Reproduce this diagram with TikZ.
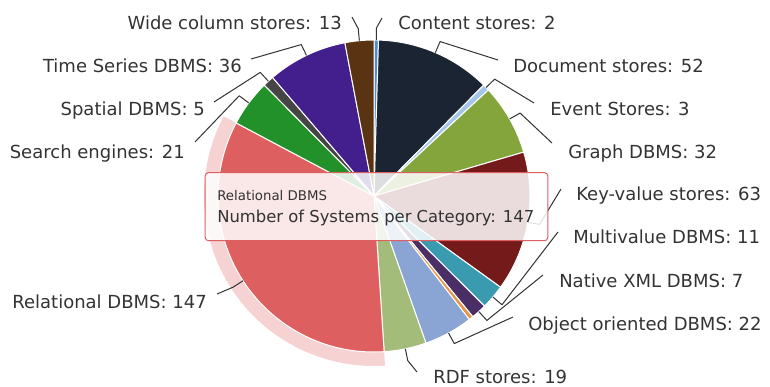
\documentclass[tikz,border=0pt]{standalone}
\usepackage{fontspec}
\setmainfont{DejaVu Sans}
\usepackage{tikz}
\usepackage{xcolor}
\usetikzlibrary{positioning}

\definecolor{content}{HTML}{4C8BD0}
\definecolor{document}{HTML}{1A2433}
\definecolor{event}{HTML}{A4C6E9}
\definecolor{graphdb}{HTML}{84A43C}
\definecolor{keyvalue}{HTML}{741A1A}
\definecolor{multivalue}{HTML}{3A9BB0}
\definecolor{nativexml}{HTML}{4A2F66}
\definecolor{navigational}{HTML}{E8954D}
\definecolor{objectdb}{HTML}{8AA4D4}
\definecolor{rdf}{HTML}{A3BC79}
\definecolor{relational}{HTML}{DE5F5F}
\definecolor{search}{HTML}{23912A}
\definecolor{spatial}{HTML}{454545}
\definecolor{timeseries}{HTML}{431F8D}
\definecolor{widecolumn}{HTML}{5A3312}
\definecolor{labeltext}{HTML}{333333}

\begin{document}
\begin{tikzpicture}[
    x=0.75pt, y=0.75pt,
    slice/.style={draw=white, line width=0.75pt, line join=round},
    lblr/.style={anchor=base west, inner sep=0pt, text=labeltext, font=\fontsize{13.5}{16}\selectfont},
    lbll/.style={anchor=base east, inner sep=0pt, text=labeltext, font=\fontsize{13.5}{16}\selectfont},
    conn/.style={draw=labeltext, line width=0.75pt, line join=round},
    tipbox/.style={rectangle, rounded corners=2.5pt, draw=relational, line width=0.75pt, fill=white, fill opacity=0.85, minimum width=257pt, minimum height=51pt},
    tiptext/.style={anchor=base west, inner sep=0pt, text=labeltext}
]
\useasboundingbox (-374,-190) rectangle (396,196);

% hover halo of Relational DBMS
\fill[relational!28!white] (-86.276:156) arc[start angle=-86.276, end angle=-207.931, radius=156]
    -- (-207.931:170) arc[start angle=-207.931, end angle=-86.276, radius=170] -- cycle;

% slices, clockwise from the top
\filldraw[slice, fill=content] (0,0) -- (90:156) arc[start angle=90, end angle=88.345, radius=156] -- cycle;
\filldraw[slice, fill=document] (0,0) -- (88.345:156) arc[start angle=88.345, end angle=45.310, radius=156] -- cycle;
\filldraw[slice, fill=event] (0,0) -- (45.310:156) arc[start angle=45.310, end angle=42.828, radius=156] -- cycle;
\filldraw[slice, fill=graphdb] (0,0) -- (42.828:156) arc[start angle=42.828, end angle=16.345, radius=156] -- cycle;
\filldraw[slice, fill=keyvalue] (0,0) -- (16.345:156) arc[start angle=16.345, end angle=-35.793, radius=156] -- cycle;
\filldraw[slice, fill=multivalue] (0,0) -- (-35.793:156) arc[start angle=-35.793, end angle=-44.897, radius=156] -- cycle;
\filldraw[slice, fill=nativexml] (0,0) -- (-44.897:156) arc[start angle=-44.897, end angle=-50.690, radius=156] -- cycle;
\filldraw[slice, fill=navigational] (0,0) -- (-50.690:156) arc[start angle=-50.690, end angle=-52.345, radius=156] -- cycle;
\filldraw[slice, fill=objectdb] (0,0) -- (-52.345:156) arc[start angle=-52.345, end angle=-70.552, radius=156] -- cycle;
\filldraw[slice, fill=rdf] (0,0) -- (-70.552:156) arc[start angle=-70.552, end angle=-86.276, radius=156] -- cycle;
\filldraw[slice, fill=relational] (0,0) -- (-86.276:156) arc[start angle=-86.276, end angle=-207.931, radius=156] -- cycle;
\filldraw[slice, fill=search] (0,0) -- (-207.931:156) arc[start angle=-207.931, end angle=-225.310, radius=156] -- cycle;
\filldraw[slice, fill=spatial] (0,0) -- (-225.310:156) arc[start angle=-225.310, end angle=-229.448, radius=156] -- cycle;
\filldraw[slice, fill=timeseries] (0,0) -- (-229.448:156) arc[start angle=-229.448, end angle=-259.241, radius=156] -- cycle;
\filldraw[slice, fill=widecolumn] (0,0) -- (-259.241:156) arc[start angle=-259.241, end angle=-270, radius=156] -- cycle;

% labels, right side
\node[lblr] (content) at (24,167) {Content stores: 2};
\node[lblr] (document) at (139,124) {Document stores: 52};
\node[lblr] (event) at (176,81) {Event Stores: 3};
\node[lblr] (graph) at (194,38) {Graph DBMS: 32};
\node[lblr] (keyvalue) at (202,-4) {Key-value stores: 63};
\node[lblr] (multivalue) at (199,-47) {Multivalue DBMS: 11};
\node[lblr] (nativexml) at (185,-91) {Native XML DBMS: 7};
\node[lblr] (objectdb) at (154,-134) {Object oriented DBMS: 22};
\node[lblr] (rdf) at (59,-187) {RDF stores: 19};

% labels, left side
\node[lbll] (widecolumn) at (-32,167) {Wide column stores: 13};
\node[lbll] (timeseries) at (-132,124) {Time Series DBMS: 36};
\node[lbll] (spatial) at (-169,81) {Spatial DBMS: 5};
\node[lbll] (search) at (-189,38) {Search engines: 21};
\node[lbll] (relational) at (-167,-112) {Relational DBMS: 147};

% connectors
\coordinate (content-edge) at (89.17:156);
\draw[conn] (content-edge) -- ++(89.17:12) -- ([shift={(-16,11)}]content.base west);
\coordinate (document-edge) at (66.83:156);
\draw[conn] (document-edge) -- ++(66.83:12) -- ([shift={(-15,12)}]document.base west);
\coordinate (event-edge) at (44.07:156);
\draw[conn] (event-edge) -- ++(44.07:12) -- ([shift={(-16,12)}]event.base west);
\coordinate (graph-edge) at (29.59:156);
\draw[conn] (graph-edge) -- ++(29.59:12) -- ([shift={(-16,15)}]graph.base west);
\coordinate (keyvalue-edge) at (-9.72:156);
\draw[conn] (keyvalue-edge) -- ++(-9.72:12) -- ([shift={(-15,11)}]keyvalue.base west);
\coordinate (multivalue-edge) at (-40.35:156);
\draw[conn] (multivalue-edge) -- ++(-40.35:12) -- ([shift={(-15,11)}]multivalue.base west);
\coordinate (nativexml-edge) at (-47.79:156);
\draw[conn] (nativexml-edge) -- ++(-47.79:12) -- ([shift={(-16,12)}]nativexml.base west);
\coordinate (objectdb-edge) at (-61.45:156);
\draw[conn] (objectdb-edge) -- ++(-61.45:12) -- ([shift={(-15,13)}]objectdb.base west);
\coordinate (rdf-edge) at (-78.41:156);
\draw[conn] (rdf-edge) -- ++(-78.41:12) -- ([shift={(-16,11)}]rdf.base west);
\coordinate (relational-edge) at (-147.10:156);
\draw[conn] (relational-edge) -- ++(-147.10:12) -- ([shift={(10,14)}]relational.base east);
\coordinate (search-edge) at (143.38:156);
\draw[conn] (search-edge) -- ++(143.38:12) -- ([shift={(10,16)}]search.base east);
\coordinate (spatial-edge) at (132.62:156);
\draw[conn] (spatial-edge) -- ++(132.62:12) -- ([shift={(9,13)}]spatial.base east);
\coordinate (timeseries-edge) at (115.66:156);
\draw[conn] (timeseries-edge) -- ++(115.66:12) -- ([shift={(9,13)}]timeseries.base east);
\coordinate (widecolumn-edge) at (95.38:156);
\draw[conn] (widecolumn-edge) -- ++(95.38:12) -- ([shift={(10,12)}]widecolumn.base east);

% tooltip
\node[tipbox] (tip) at (2.5,-10.7) {};
\node[tiptext, font=\fontsize{10}{12}\selectfont] (tip-title) at (-157,-4) {Relational DBMS};
\node[tiptext, font=\fontsize{12.3}{14}\selectfont] (tip-value) at (-157,-26) {Number of Systems per Category: 147};

\end{tikzpicture}
\end{document}
